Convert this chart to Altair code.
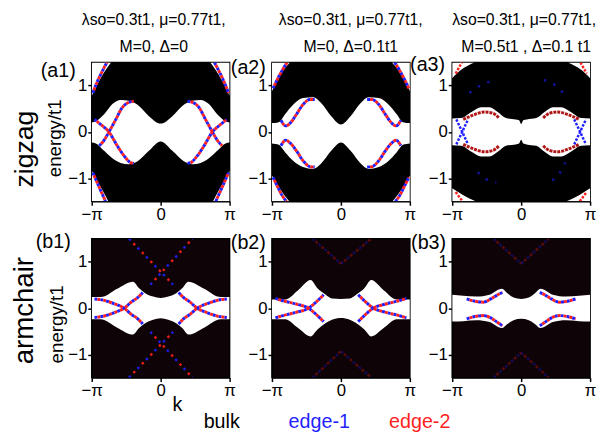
import altair as alt
import pandas as pd

# ---------------- text ----------------
col_line1 = ["λso=0.3t1, μ=0.77t1,", "λso=0.3t1, μ=0.77t1,", "λso=0.3t1, μ=0.77t1,"]
col_line2 = ["M=0, Δ=0", "M=0, Δ=0.1t1", "M=0.5t1 , Δ=0.1 t1"]
panel_labels = ["(a1)", "(a2)", "(a3)", "(b1)", "(b2)", "(b3)"]
row_labels = ["zigzag", "armchair"]
y_title = "energy/t1"
x_title = "k"
legend_labels = ["bulk", "edge-1", "edge-2"]
legend_colors = ["#000000", "#1f1fff", "#ff1f1f"]

x_ticks = [-1, 0, 1]          # k in units of pi
y_ticks = [-1, 0, 1]

BLUE = "#1f1fff"
RED = "#ff1f1f"
DARKRED = "#b01515"

# ---------------- panel a1 (zigzag, M=0, D=0) ----------------
a1_k = [-1, -0.94, -0.82, -0.70, -0.58, -0.46, -0.34, -0.17, 0, 0.17, 0.34, 0.46, 0.58, 0.70, 0.82, 0.94, 1]
a1_up = [0.20, 0.23, 0.38, 0.60, 0.69, 0.67, 0.59, 0.34, 0.18, 0.34, 0.59, 0.67, 0.69, 0.60, 0.38, 0.23, 0.20]
a1_lo = [-0.23, -0.25, -0.41, -0.57, -0.67, -0.70, -0.64, -0.41, -0.21, -0.41, -0.64, -0.70, -0.67, -0.57, -0.41, -0.25, -0.23]
a1_tl_k = [-1, -0.92, -0.84, -0.72]; a1_tl_e = [0.78, 1.02, 1.24, 1.50]
a1_tr_k = [0.72, 0.84, 0.92, 1]; a1_tr_e = [1.50, 1.24, 1.02, 0.78]
a1_bl_k = [-1, -0.91, -0.83, -0.76]; a1_bl_e = [-0.84, -1.09, -1.30, -1.50]
a1_br_k = [0.76, 0.83, 0.91, 1]; a1_br_e = [-1.50, -1.30, -1.09, -0.84]
a1_L1_k = [-0.96, -0.87, -0.75, -0.63, -0.53, -0.44, -0.39]; a1_L1_e = [0.27, 0.16, 0.0, -0.30, -0.52, -0.66, -0.68]
a1_L2_k = [-0.89, -0.82, -0.75, -0.65, -0.56, -0.46, -0.39]; a1_L2_e = [-0.30, -0.18, 0.0, 0.27, 0.52, 0.64, 0.66]
a1_R1_k = [0.39, 0.44, 0.53, 0.63, 0.75, 0.87, 0.96]; a1_R1_e = [-0.68, -0.66, -0.52, -0.30, 0.0, 0.16, 0.27]
a1_R2_k = [0.39, 0.46, 0.56, 0.65, 0.75, 0.82, 0.89]; a1_R2_e = [0.66, 0.64, 0.52, 0.27, 0.0, -0.18, -0.30]
a1_cTL_k = [-0.985, -0.92, -0.85, -0.78]; a1_cTL_e = [0.84, 1.08, 1.30, 1.50]
a1_cTR_k = [0.78, 0.85, 0.92, 0.985]; a1_cTR_e = [1.50, 1.30, 1.08, 0.84]
a1_cBL_k = [-0.985, -0.92, -0.86, -0.80]; a1_cBL_e = [-0.88, -1.10, -1.30, -1.50]
a1_cBR_k = [0.80, 0.86, 0.92, 0.985]; a1_cBR_e = [-1.50, -1.30, -1.10, -0.88]

# ---------------- panel a2 (zigzag, M=0, D=0.1) ----------------
a2_k = [-1, -0.9, -0.81, -0.69, -0.55, -0.4, -0.29, -0.14, 0, 0.14, 0.29, 0.4, 0.55, 0.69, 0.81, 0.9, 1]
a2_up = [0.19, 0.21, 0.38, 0.59, 0.73, 0.75, 0.63, 0.34, 0.16, 0.34, 0.63, 0.75, 0.73, 0.59, 0.38, 0.21, 0.19]
a2_lo = [-0.25, -0.28, -0.44, -0.63, -0.76, -0.80, -0.69, -0.41, -0.23, -0.41, -0.69, -0.80, -0.76, -0.63, -0.44, -0.28, -0.25]
a2_tl_k = [-1, -0.93, -0.84, -0.74]; a2_tl_e = [0.88, 1.10, 1.32, 1.50]
a2_tr_k = [0.74, 0.84, 0.93, 1]; a2_tr_e = [1.50, 1.32, 1.10, 0.88]
a2_bl_k = [-1, -0.92, -0.82, -0.75]; a2_bl_e = [-0.94, -1.15, -1.37, -1.50]
a2_br_k = [0.75, 0.82, 0.92, 1]; a2_br_e = [-1.50, -1.37, -1.15, -0.94]
a2_UL_k = [-0.87, -0.80, -0.73, -0.64, -0.55, -0.45, -0.38]; a2_UL_e = [0.25, 0.13, 0.20, 0.39, 0.59, 0.70, 0.70]
a2_LL_k = [-0.87, -0.80, -0.73, -0.64, -0.55, -0.45, -0.38]; a2_LL_e = [-0.30, -0.18, -0.25, -0.42, -0.62, -0.75, -0.76]
a2_UR_k = [0.38, 0.45, 0.55, 0.64, 0.73, 0.80, 0.87]; a2_UR_e = [0.70, 0.70, 0.59, 0.39, 0.20, 0.13, 0.25]
a2_LR_k = [0.38, 0.45, 0.55, 0.64, 0.73, 0.80, 0.87]; a2_LR_e = [-0.76, -0.75, -0.62, -0.42, -0.25, -0.18, -0.30]
a2_cTL_k = [-0.985, -0.92, -0.85, -0.78]; a2_cTL_e = [0.94, 1.14, 1.33, 1.50]
a2_cTR_k = [0.78, 0.85, 0.92, 0.985]; a2_cTR_e = [1.50, 1.33, 1.14, 0.94]
a2_cBL_k = [-0.985, -0.92, -0.85, -0.79]; a2_cBL_e = [-0.98, -1.18, -1.38, -1.50]
a2_cBR_k = [0.79, 0.85, 0.92, 0.985]; a2_cBR_e = [-1.50, -1.38, -1.18, -0.98]

# ---------------- panel a3 (zigzag, M=0.5, D=0.1) ----------------
a3_k = [-1, -0.87, -0.72, -0.58, -0.46, -0.34, -0.22, -0.08, -0.03, 0, 0.03, 0.08, 0.22, 0.34, 0.46, 0.58, 0.72, 0.87, 1]
a3_up = [0.29, 0.30, 0.43, 0.53, 0.53, 0.43, 0.30, 0.27, 0.25, 0.17, 0.25, 0.27, 0.30, 0.43, 0.53, 0.53, 0.43, 0.30, 0.29]
a3_lo = [-0.29, -0.30, -0.43, -0.53, -0.53, -0.43, -0.30, -0.27, -0.25, -0.17, -0.25, -0.27, -0.30, -0.43, -0.53, -0.53, -0.43, -0.30, -0.29]
a3_tl_k = [-1, -0.87, -0.68]; a3_tl_e = [1.16, 1.34, 1.50]
a3_tr_k = [0.68, 0.87, 1]; a3_tr_e = [1.50, 1.34, 1.16]
a3_bl_k = [-1, -0.84, -0.66]; a3_bl_e = [-1.22, -1.37, -1.50]
a3_br_k = [0.66, 0.84, 1]; a3_br_e = [-1.50, -1.37, -1.22]
a3_rUL_k = [-0.84, -0.70, -0.53, -0.41, -0.32]; a3_rUL_e = [0.27, 0.36, 0.43, 0.40, 0.30]
a3_rLL_k = [-0.84, -0.70, -0.53, -0.41, -0.32]; a3_rLL_e = [-0.27, -0.36, -0.43, -0.40, -0.30]
a3_rUR_k = [0.32, 0.41, 0.53, 0.70, 0.84]; a3_rUR_e = [0.30, 0.40, 0.43, 0.36, 0.27]
a3_rLR_k = [0.32, 0.41, 0.53, 0.70, 0.84]; a3_rLR_e = [-0.30, -0.40, -0.43, -0.36, -0.27]
a3_bXL1_k = [-0.94, -0.77]; a3_bXL1_e = [0.27, -0.27]
a3_bXL2_k = [-0.94, -0.77]; a3_bXL2_e = [-0.27, 0.27]
a3_bXR1_k = [0.77, 0.94]; a3_bXR1_e = [0.27, -0.27]
a3_bXR2_k = [0.77, 0.94]; a3_bXR2_e = [-0.27, 0.27]
a3_cTL_k = [-0.95, -0.86]; a3_cTL_e = [1.26, 1.50]
a3_cTR_k = [0.86, 0.95]; a3_cTR_e = [1.50, 1.26]
a3_cBL_k = [-0.95, -0.85]; a3_cBL_e = [-1.30, -1.50]
a3_cBR_k = [0.85, 0.95]; a3_cBR_e = [-1.50, -1.30]
a3_fUL_k = [-0.75, -0.58, -0.39]; a3_fUL_e = [0.84, 1.01, 1.12]
a3_fUR_k = [0.33, 0.52, 0.67]; a3_fUR_e = [1.12, 0.98, 0.73]
a3_fLL_k = [-0.63, -0.51, -0.36]; a3_fLL_e = [-0.87, -1.02, -1.09]
a3_fLR_k = [0.45, 0.55, 0.64]; a3_fLR_e = [-1.05, -0.91, -0.66]

# ---------------- panel b1 (armchair, M=0, D=0) ----------------
b1_k = [-1, -0.87, -0.63, -0.40, -0.32, -0.23, -0.11, 0, 0.11, 0.23, 0.32, 0.40, 0.63, 0.87, 1]
b1_up = [0.24, 0.24, 0.42, 0.57, 0.44, 0.33, 0.25, 0.22, 0.25, 0.33, 0.44, 0.57, 0.42, 0.24, 0.24]
b1_lo = [-0.24, -0.24, -0.42, -0.57, -0.44, -0.33, -0.25, -0.22, -0.25, -0.33, -0.44, -0.57, -0.42, -0.24, -0.24]
b1_c1_k = [-0.96, -0.82, -0.68, -0.53, -0.42, -0.34, -0.26]; b1_c1_e = [0.20, 0.17, 0.10, 0.0, -0.14, -0.22, -0.34]
b1_c2_k = [-0.96, -0.82, -0.68, -0.53, -0.42, -0.34, -0.26]; b1_c2_e = [-0.20, -0.17, -0.10, 0.0, 0.14, 0.22, 0.34]
b1_c3_k = [0.26, 0.34, 0.42, 0.53, 0.68, 0.82, 0.96]; b1_c3_e = [-0.34, -0.22, -0.14, 0.0, 0.10, 0.17, 0.20]
b1_c4_k = [0.26, 0.34, 0.42, 0.53, 0.68, 0.82, 0.96]; b1_c4_e = [0.34, 0.22, 0.14, 0.0, -0.10, -0.17, -0.20]
b1_X1_k = [-0.46, 0.18]; b1_X1_e = [1.50, 0.51]
b1_X2_k = [-0.15, 0.46]; b1_X2_e = [0.51, 1.50]
b1_X3_k = [-0.46, 0.18]; b1_X3_e = [-1.50, -0.51]
b1_X4_k = [-0.15, 0.46]; b1_X4_e = [-0.51, -1.50]

# ---------------- panel b2 (armchair, M=0, D=0.1) ----------------
b2_k = [-1, -0.81, -0.62, -0.44, -0.34, -0.22, -0.13, 0, 0.13, 0.22, 0.34, 0.44, 0.62, 0.81, 1]
b2_up = [0.19, 0.19, 0.39, 0.61, 0.43, 0.29, 0.21, 0.20, 0.21, 0.29, 0.43, 0.61, 0.39, 0.19, 0.19]
b2_lo = [-0.24, -0.24, -0.43, -0.61, -0.46, -0.32, -0.25, -0.21, -0.25, -0.32, -0.46, -0.61, -0.43, -0.24, -0.24]
b2_c1_k = [-0.95, -0.84, -0.65, -0.47, -0.34, -0.25]; b2_c1_e = [0.21, 0.16, 0.09, 0.0, -0.16, -0.29]
b2_c2_k = [-0.95, -0.84, -0.65, -0.47, -0.34, -0.25]; b2_c2_e = [-0.21, -0.16, -0.09, 0.0, 0.16, 0.29]
b2_c3_k = [0.25, 0.34, 0.47, 0.65, 0.84, 0.95]; b2_c3_e = [-0.29, -0.16, 0.0, 0.09, 0.16, 0.21]
b2_c4_k = [0.25, 0.34, 0.47, 0.65, 0.84, 0.95]; b2_c4_e = [0.29, 0.16, 0.0, -0.09, -0.16, -0.21]
b2_D1_k = [-0.41, 0.0]; b2_D1_e = [1.50, 0.96]
b2_D2_k = [0.0, 0.44]; b2_D2_e = [0.96, 1.50]
b2_D3_k = [-0.41, 0.0]; b2_D3_e = [-1.50, -0.93]
b2_D4_k = [0.0, 0.44]; b2_D4_e = [-0.93, -1.50]

# ---------------- panel b3 (armchair, M=0.5, D=0.1) ----------------
b3_k = [-1, -0.84, -0.65, -0.46, -0.28, -0.2, -0.11, 0, 0.11, 0.2, 0.28, 0.46, 0.65, 0.84, 1]
b3_up = [0.29, 0.27, 0.25, 0.29, 0.42, 0.32, 0.23, 0.20, 0.23, 0.32, 0.42, 0.29, 0.25, 0.27, 0.29]
b3_lo = [-0.29, -0.28, -0.26, -0.30, -0.43, -0.34, -0.26, -0.23, -0.26, -0.34, -0.43, -0.30, -0.26, -0.28, -0.29]
b3_UL_k = [-0.79, -0.67, -0.55, -0.44, -0.34, -0.27]; b3_UL_e = [0.20, 0.15, 0.13, 0.20, 0.29, 0.34]
b3_UR_k = [0.27, 0.34, 0.44, 0.55, 0.67, 0.79]; b3_UR_e = [0.34, 0.29, 0.20, 0.13, 0.15, 0.20]
b3_LL_k = [-0.79, -0.67, -0.55, -0.44, -0.34, -0.27]; b3_LL_e = [-0.23, -0.18, -0.16, -0.21, -0.31, -0.38]
b3_LR_k = [0.27, 0.34, 0.44, 0.55, 0.67, 0.79]; b3_LR_e = [-0.38, -0.31, -0.21, -0.16, -0.18, -0.23]
b3_D1_k = [-0.40, 0.0]; b3_D1_e = [1.50, 0.96]
b3_D2_k = [0.0, 0.40]; b3_D2_e = [0.96, 1.50]
b3_D3_k = [-0.40, 0.0]; b3_D3_e = [-1.50, -0.96]
b3_D4_k = [0.0, 0.40]; b3_D4_e = [-0.96, -1.50]

TOP = 1.5
BOT = -1.5
W, H = 140, 141

STYLES = {
    # style: list of (color, dash, offset, width, opacity)
    "mix": [(BLUE, [3, 3], 0, 3, 1), (RED, [3, 3], 3, 3, 1)],
    "sparse": [(BLUE, [2.5, 10], 0, 2.5, 0.9), (RED, [2.5, 10], 6, 2.5, 0.9)],
    "dim": [(BLUE, [3, 5], 0, 2.5, 0.3), (RED, [3, 5], 4, 2.5, 0.3)],
    "blue": [(BLUE, [2.5, 1.5], 0, 2.5, 1)],
    "red": [(RED, [2.5, 1.5], 0, 2.5, 1)],
    "darkred": [(DARKRED, [3, 1], 0, 3, 1)],
    "faint": [(BLUE, [2.5, 8], 0, 2.5, 0.6)],
}

xs = alt.Scale(domain=[-1, 1], nice=False, zero=False)
ys = alt.Scale(domain=[BOT, TOP], nice=False, zero=False)
xax = alt.Axis(values=x_ticks, title=None, grid=False, labelFlush=False, labelOverlap=False,
               labelExpr="datum.value < 0 ? '−π' : (datum.value > 0 ? 'π' : '0')")
yax = alt.Axis(values=y_ticks, title=None, grid=False, labelOverlap=False,
               labelExpr="datum.value < 0 ? '−1' : datum.label")


def text_layer(txt, px, py, size, color="black", angle=0):
    return alt.Chart(pd.DataFrame({"t": [txt]})).mark_text(
        fontSize=size, font="Liberation Sans", color=color, angle=angle,
        align="center", baseline="middle").encode(
        x=alt.value(px), y=alt.value(py), text="t:N")


def panel(regions, curves, bg, texts):
    reg_rows = []
    for name, ks, los, his in regions:
        for k, lo, hi in zip(ks, los, his):
            reg_rows.append({"region": name, "k": k, "lo": lo, "hi": hi})
    cur_rows = []
    for name, style, ks, es in curves:
        for k, e in zip(ks, es):
            cur_rows.append({"curve": name, "style": style, "k": k, "E": e})
    rdf = pd.DataFrame(reg_rows)
    cdf = pd.DataFrame(cur_rows)
    layers = [alt.Chart(rdf).mark_area(color="white", clip=True, interpolate="monotone", opacity=1).encode(
        x=alt.X("k:Q", scale=xs, axis=xax),
        y=alt.Y("lo:Q", scale=ys, axis=yax),
        y2="hi:Q", detail="region:N")]
    used = sorted(set(cdf["style"]))
    for st in used:
        for color, dash, off, wdt, op in STYLES[st]:
            layers.append(alt.Chart(cdf).transform_filter(alt.datum.style == st).mark_line(
                color=color, strokeDash=dash, strokeDashOffset=off, strokeWidth=wdt,
                opacity=op, clip=True, interpolate="monotone", strokeCap="butt").encode(
                x=alt.X("k:Q", scale=xs, axis=xax),
                y=alt.Y("E:Q", scale=ys, axis=yax),
                detail="curve:N"))
    for t in texts:
        layers.append(text_layer(*t))
    return alt.layer(*layers).properties(
        width=W, height=H,
        view=alt.ViewBackground(fill=bg, stroke="black", strokeWidth=1.5))


def corners(prefix, tl_k, tl_e, tr_k, tr_e, bl_k, bl_e, br_k, br_e):
    return [
        (prefix + "tl", tl_k, tl_e, [TOP] * len(tl_k)),
        (prefix + "tr", tr_k, tr_e, [TOP] * len(tr_k)),
        (prefix + "bl", bl_k, [BOT] * len(bl_k), bl_e),
        (prefix + "br", br_k, [BOT] * len(br_k), br_e),
    ]


anchor = alt.Chart(pd.DataFrame({"a": [0]})).mark_rule(opacity=0).encode(
    x=alt.value(-84), x2=alt.value(-84), y=alt.value(-50), y2=alt.value(-49))

p_a1 = panel(
    [("gap", a1_k, a1_lo, a1_up)] + corners("c", a1_tl_k, a1_tl_e, a1_tr_k, a1_tr_e, a1_bl_k, a1_bl_e, a1_br_k, a1_br_e),
    [("L1", "mix", a1_L1_k, a1_L1_e), ("L2", "mix", a1_L2_k, a1_L2_e),
     ("R1", "mix", a1_R1_k, a1_R1_e), ("R2", "mix", a1_R2_k, a1_R2_e),
     ("cTL", "mix", a1_cTL_k, a1_cTL_e), ("cTR", "mix", a1_cTR_k, a1_cTR_e),
     ("cBL", "mix", a1_cBL_k, a1_cBL_e), ("cBR", "mix", a1_cBR_k, a1_cBR_e)],
    "black",
    [(col_line1[0], 63, -43, 16), (col_line2[0], 63, -16, 16), (panel_labels[0], -34, 9, 20),
     (row_labels[0], -68, 88, 27, "black", 270), (y_title, -37, 77, 19, "black", 270)])
p_a1 = alt.layer(p_a1, anchor)

p_a2 = panel(
    [("gap", a2_k, a2_lo, a2_up)] + corners("c", a2_tl_k, a2_tl_e, a2_tr_k, a2_tr_e, a2_bl_k, a2_bl_e, a2_br_k, a2_br_e),
    [("UL", "mix", a2_UL_k, a2_UL_e), ("LL", "mix", a2_LL_k, a2_LL_e),
     ("UR", "mix", a2_UR_k, a2_UR_e), ("LR", "mix", a2_LR_k, a2_LR_e),
     ("cTL", "mix", a2_cTL_k, a2_cTL_e), ("cTR", "mix", a2_cTR_k, a2_cTR_e),
     ("cBL", "mix", a2_cBL_k, a2_cBL_e), ("cBR", "mix", a2_cBR_k, a2_cBR_e)],
    "black",
    [(col_line1[1], 80, -43, 16), (col_line2[1], 80, -16, 16), (panel_labels[1], -24, 6, 20)])

p_a3 = panel(
    [("gap", a3_k, a3_lo, a3_up)] + corners("c", a3_tl_k, a3_tl_e, a3_tr_k, a3_tr_e, a3_bl_k, a3_bl_e, a3_br_k, a3_br_e),
    [("rUL", "darkred", a3_rUL_k, a3_rUL_e), ("rLL", "darkred", a3_rLL_k, a3_rLL_e),
     ("rUR", "darkred", a3_rUR_k, a3_rUR_e), ("rLR", "darkred", a3_rLR_k, a3_rLR_e),
     ("xl1", "blue", a3_bXL1_k, a3_bXL1_e), ("xl2", "blue", a3_bXL2_k, a3_bXL2_e),
     ("xr1", "blue", a3_bXR1_k, a3_bXR1_e), ("xr2", "blue", a3_bXR2_k, a3_bXR2_e),
     ("cTL", "red", a3_cTL_k, a3_cTL_e), ("cTR", "red", a3_cTR_k, a3_cTR_e),
     ("cBL", "red", a3_cBL_k, a3_cBL_e), ("cBR", "red", a3_cBR_k, a3_cBR_e),
     ("fUL", "faint", a3_fUL_k, a3_fUL_e), ("fUR", "faint", a3_fUR_k, a3_fUR_e),
     ("fLL", "faint", a3_fLL_k, a3_fLL_e), ("fLR", "faint", a3_fLR_k, a3_fLR_e)],
    "black",
    [(col_line1[2], 73, -43, 16), (col_line2[2], 75, -16, 16), (panel_labels[2], -25, 3, 20)])

BBG = "#0e0307"
p_b1 = panel(
    [("gap", b1_k, b1_lo, b1_up)],
    [("c1", "mix", b1_c1_k, b1_c1_e), ("c2", "mix", b1_c2_k, b1_c2_e),
     ("c3", "mix", b1_c3_k, b1_c3_e), ("c4", "mix", b1_c4_k, b1_c4_e),
     ("X1", "sparse", b1_X1_k, b1_X1_e), ("X2", "sparse", b1_X2_k, b1_X2_e),
     ("X3", "sparse", b1_X3_k, b1_X3_e), ("X4", "sparse", b1_X4_k, b1_X4_e)],
    BBG,
    [(panel_labels[3], -39, 3, 20), (row_labels[1], -68, 73, 28, "black", 270),
     (y_title, -35, 87, 19, "black", 270), (x_title, 87, 169, 20),
     (legend_labels[0], 132, 186, 20, legend_colors[0]),
     (legend_labels[1], 231, 186, 20, legend_colors[1]),
     (legend_labels[2], 333, 186, 20, legend_colors[2])])

p_b2 = panel(
    [("gap", b2_k, b2_lo, b2_up)],
    [("c1", "mix", b2_c1_k, b2_c1_e), ("c2", "mix", b2_c2_k, b2_c2_e),
     ("c3", "mix", b2_c3_k, b2_c3_e), ("c4", "mix", b2_c4_k, b2_c4_e),
     ("D1", "dim", b2_D1_k, b2_D1_e), ("D2", "dim", b2_D2_k, b2_D2_e),
     ("D3", "dim", b2_D3_k, b2_D3_e), ("D4", "dim", b2_D4_k, b2_D4_e)],
    BBG,
    [(panel_labels[4], -24, 4, 20)])

p_b3 = panel(
    [("gap", b3_k, b3_lo, b3_up)],
    [("UL", "mix", b3_UL_k, b3_UL_e), ("UR", "mix", b3_UR_k, b3_UR_e),
     ("LL", "mix", b3_LL_k, b3_LL_e), ("LR", "mix", b3_LR_k, b3_LR_e),
     ("D1", "dim", b3_D1_k, b3_D1_e), ("D2", "dim", b3_D2_k, b3_D2_e),
     ("D3", "dim", b3_D3_k, b3_D3_e), ("D4", "dim", b3_D4_k, b3_D4_e)],
    BBG,
    [(panel_labels[5], -24, 4, 20)])

chart = alt.concat(p_a1, p_a2, p_a3, p_b1, p_b2, p_b3, columns=3).properties(
    bounds="flush",
    spacing=alt.RowColnumber(row=38, column=43),
    padding=0,
    background="white",
).configure_axis(
    labelFont="Liberation Sans", labelFontSize=17, labelColor="black",
    tickColor="black", domainColor="black", tickSize=4, labelPadding=1,
    domainWidth=1.5, tickWidth=1.5,
)

chart.save("out.html", embed_options={"renderer": "svg", "actions": False})
